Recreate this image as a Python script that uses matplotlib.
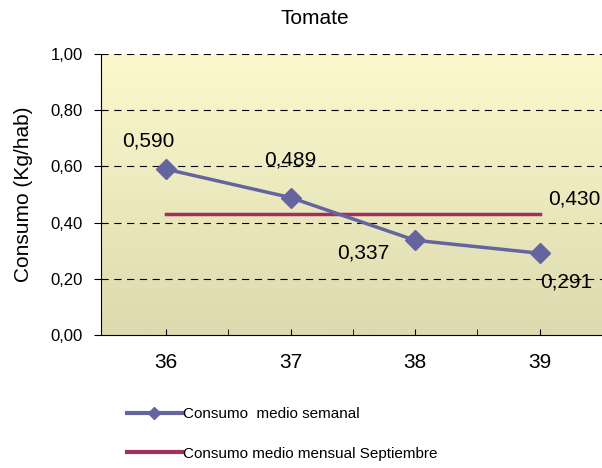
import matplotlib.pyplot as plt
import numpy as np

plt.rcParams['font.family'] = ['Liberation Sans', 'DejaVu Sans']

# data
semanas = [36, 37, 38, 39]
consumo_semanal = [0.590, 0.489, 0.337, 0.291]
consumo_mensual = [0.430, 0.430, 0.430, 0.430]
etiquetas_semanal = ['0,590', '0,489', '0,337', '0,291']
etiqueta_mensual = '0,430'
yticks = [0.0, 0.2, 0.4, 0.6, 0.8, 1.0]
ytick_labels = ['0,00', '0,20', '0,40', '0,60', '0,80', '1,00']

fig = plt.figure(figsize=(6.02, 4.68), dpi=100)
ax = fig.add_axes([0.168, 0.284, 0.832, 0.601])

# gradient background
grad = np.linspace(0, 1, 256).reshape(-1, 1)
top = np.array([251, 249, 205]) / 255
bot = np.array([221, 218, 176]) / 255
img = top[None, None, :] * (1 - grad[:, :, None]) + bot[None, None, :] * grad[:, :, None]
ax.imshow(img, extent=[35.48, 39.5, 0, 1], aspect='auto', origin='upper', zorder=0)

ax.set_xlim(35.48, 39.5)
ax.set_ylim(0, 1)

ax.plot(semanas, consumo_semanal, color='#6464A0', lw=2.5, marker='D', ms=10,
        label='Consumo  medio semanal', zorder=3)
ax.plot(semanas, consumo_mensual, color='#A03060', lw=2.5,
        label='Consumo medio mensual Septiembre', zorder=2)

for y in yticks[1:]:
    ax.axhline(y, color='black', lw=0.8, ls=(0, (6.5, 5)), zorder=1)

offsets = [(-13, 20), (0, 27), (-37, -9), (19, -21)]
for x, y, t, (dx, dy) in zip(semanas, consumo_semanal, etiquetas_semanal, offsets):
    ax.annotate(t, (x, y), xytext=(dx, dy), textcoords='offset points',
                ha='center', va='center', fontsize=15, zorder=4)
ax.annotate(etiqueta_mensual, (semanas[-1], consumo_mensual[-1]), xytext=(25, 11),
            textcoords='offset points', ha='center', va='center', fontsize=15, zorder=4)

ax.set_yticks(yticks)
ax.set_yticklabels(ytick_labels, fontsize=12)
ax.set_xticks(semanas)
ax.set_xticklabels([str(s) for s in semanas], fontsize=15)
ax.set_xticks([36.5, 37.5, 38.5], minor=True)
ax.tick_params(axis='x', which='both', direction='in', length=4, pad=13)
ax.tick_params(axis='y', direction='out', length=5, pad=8)

for s in ['top', 'right']:
    ax.spines[s].set_visible(False)

ax.set_ylabel('Consumo (Kg/hab)', fontsize=15, labelpad=13)
fig.text(315 / 602, 1 - 18 / 468, 'Tomate', ha='center', va='center', fontsize=15)

leg = fig.legend(loc='upper left', bbox_to_anchor=(0.188, 0.16), frameon=False,
                 fontsize=11, handlelength=3.6, handletextpad=0.05, labelspacing=1.7,
                 markerscale=0.6)
for h in leg.legend_handles:
    h.set_linewidth(3)

fig.savefig('out.png', dpi=100)
